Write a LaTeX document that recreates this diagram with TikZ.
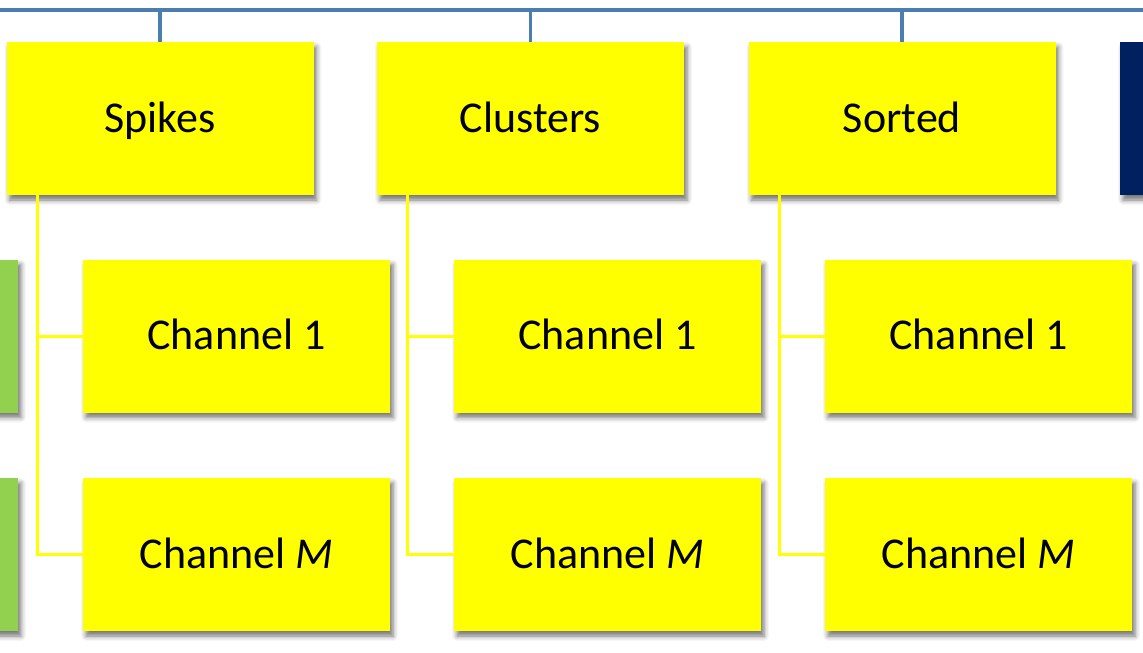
\documentclass[tikz,border=0pt]{standalone}
\usepackage{fontspec}
\setmainfont{Carlito}
\usepackage{tikz}
\usetikzlibrary{positioning, shadows.blur}

\definecolor{busblue}{HTML}{4A7EB0}
\definecolor{boxyellow}{HTML}{FFFF00}
\definecolor{boxgreen}{HTML}{92D050}
\definecolor{boxnavy}{HTML}{002060}

\tikzset{
  box/.style={rectangle, minimum width=307pt, minimum height=153pt, inner sep=0pt,
    text height=30pt, text depth=3pt,
    font=\fontsize{44}{50}\selectfont,
    blur shadow={shadow xshift=3pt, shadow yshift=-5pt, shadow blur radius=5pt, shadow opacity=55}},
  ybox/.style={box, fill=boxyellow},
  gbox/.style={box, fill=boxgreen},
  nbox/.style={box, fill=boxnavy},
  bus/.style={draw=busblue, line width=3.5pt},
  tree/.style={draw=boxyellow, line width=3pt}
}

\begin{document}
\begin{tikzpicture}[x=1pt, y=-1pt]
\useasboundingbox (0,0) rectangle (1143,653);
\clip (0,0) rectangle (1143,653);

\coordinate (busL) at (0,10);
\coordinate (busR) at (1143,10);

\node[ybox](spk) at (160,118.5) {Spikes};
\node[ybox](clu) at (530.5,118.5) {Clusters};
\node[ybox](srt) at (902,118.5) {Sorted};
\node[nbox](nav) at (1273.5,118.5) {};

\node[gbox](g1) at (-135.5,336) {};
\node[gbox](gM) at (-135.5,554.5) {};

\node[ybox](spk1) at (236.5,336) {Channel 1};
\node[ybox](spkM) at (236.5,554.5) {Channel \textit{M}};
\node[ybox](clu1) at (607.5,336) {Channel 1};
\node[ybox](cluM) at (607.5,554.5) {Channel \textit{M}};
\node[ybox](srt1) at (978.5,336) {Channel 1};
\node[ybox](srtM) at (978.5,554.5) {Channel \textit{M}};

\draw[bus] (busL) -- (busR);
\draw[bus] (spk.north) -- (spk.north |- busL)
		(clu.north) -- (clu.north |- busL)
		(srt.north) -- (srt.north |- busL);

\draw[tree] ([xshift=31pt]spk.south west) |- (spk1.west)
		([xshift=31pt]spk.south west) |- (spkM.west)
		([xshift=31pt]clu.south west) |- (clu1.west)
		([xshift=31pt]clu.south west) |- (cluM.west)
		([xshift=31pt]srt.south west) |- (srt1.west)
		([xshift=31pt]srt.south west) |- (srtM.west);

\end{tikzpicture}
\end{document}
